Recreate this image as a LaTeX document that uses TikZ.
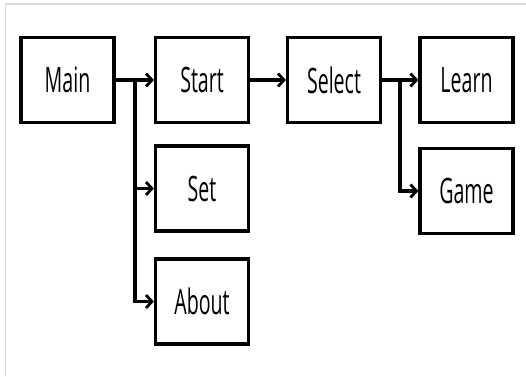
\documentclass[tikz,border=0pt]{standalone}
\usepackage{fontspec}
\setmainfont[FakeStretch=0.56]{Open Sans}
\usetikzlibrary{arrows.meta}
\begin{document}
\begin{tikzpicture}[x=1pt,y=1pt,
  box/.style={draw=black, line width=3.2pt, minimum width=93pt, minimum height=85pt, inner sep=0pt, fill=white, font=\fontsize{35}{40}\selectfont},
  arr/.style={draw=black, line width=3.2pt, -{Straight Barb[length=6pt,width=13pt,line width=2.8pt]}}]
\useasboundingbox (0,0) rectangle (526,376);
\fill[white] (0,0) rectangle (526,376);
\draw[black!14, line width=1pt] (5,0) -- (5,372) -- (526,372);
\node[box] (main)   at (67.5,296) {Main};
\node[box] (start)  at (202,296) {Start};
\node[box] (select) at (334,296) {Select};
\node[box] (learn)  at (466.5,296) {Learn};
\node[box] (set)    at (202,187.5) {Set};
\node[box] (about)  at (202,74.5) {About};
\node[box] (game)   at (466.5,185) {Game};
\coordinate (b1) at (135,296);
\coordinate (b2) at (400,296);
\draw[arr] (main.east) -- (start.west);
\draw[arr] (b1) |- (set.west);
\draw[arr] (b1) |- (about.west);
\draw[arr] (start.east) -- (select.west);
\draw[arr] (select.east) -- (learn.west);
\draw[arr] (b2) |- (game.west);
\end{tikzpicture}
\end{document}
